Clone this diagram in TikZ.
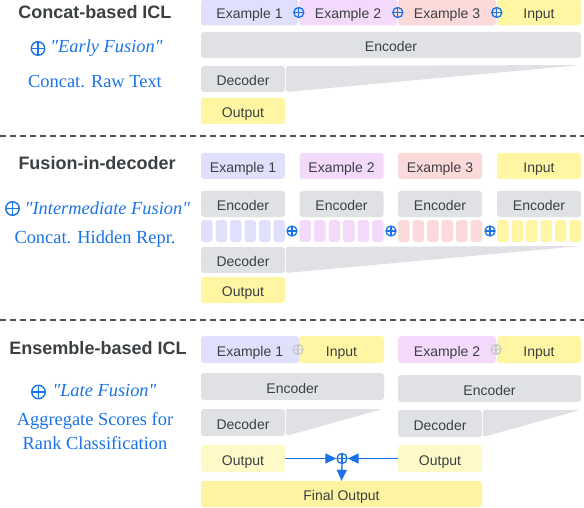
\documentclass[tikz,border=0pt]{standalone}
\usepackage{fontspec}
\setmainfont{Liberation Serif}[Ligatures=TeXOff]
\setsansfont{Liberation Sans}
\usetikzlibrary{arrows.meta}
\definecolor{txt}{HTML}{3C4043}
\definecolor{blu}{HTML}{1A73E8}
\definecolor{gry}{HTML}{DFE1E5}
\definecolor{cA}{HTML}{E1E0FC}
\definecolor{cB}{HTML}{F3DAFB}
\definecolor{cC}{HTML}{FDDADA}
\definecolor{cIn}{HTML}{FEF6A3}
\definecolor{cOut}{HTML}{FDFAC8}
\definecolor{cFin}{HTML}{FEF3A0}
\definecolor{opgray}{HTML}{C5CAD0}
\definecolor{dsh}{HTML}{505458}
\tikzset{
  bx/.style={rounded corners=3, inner sep=0, text=txt, font=\sffamily\fontsize{14}{16}\selectfont, text height=13, text depth=0, minimum height=26, minimum width=84},
  tok/.style={rounded corners=3, inner sep=0, minimum width=11.5, minimum height=22},
  hdr/.style={inner sep=0, text=txt, font=\sffamily\bfseries\fontsize{18}{22}\selectfont},
  bl/.style={inner sep=0, text=blu, font=\fontsize{18.4}{21}\selectfont},
  opl/.style={circle, draw=#1, line width=1.3, minimum size=10, inner sep=0, path picture={\draw[#1, line width=1.1] (path picture bounding box.north) -- (path picture bounding box.south) (path picture bounding box.west) -- (path picture bounding box.east);}},
  bigop/.style={opl=blu, minimum size=13.5, line width=1.4},
  sep/.style={dsh, line width=1.6, dash pattern=on 6 off 4},
  arr/.style={blu, line width=1.3, -{Triangle[length=11,width=10]}},
}
\begin{document}
\begin{tikzpicture}[x=1pt,y=-1pt]
\useasboundingbox (0,0) rectangle (584,508);
% ---------- Section 1
\node[hdr] (h1) at (95,12) {Concat-based ICL};
\node[bl] (f1) at (106.5,48) {\textit{"Early Fusion"}};
\node[bigop] (f1op) at (38,48.5) {};
\node[bl] (d1) at (95,82) {Concat. Raw Text};
\node[bx, fill=cA, minimum width=97] (s1e1) at (249.5,12.5) {Example 1};
\node[bx, fill=cB, minimum width=98] (s1e2) at (348,12.5) {Example 2};
\node[bx, fill=cC, minimum width=98] (s1e3) at (447,12.5) {Example 3};
\node[bx, fill=cIn] (s1in) at (539,12.5) {Input};
\node[opl=blu] (s1p1) at (s1e2.west) {};
\node[opl=blu] (s1p2) at (s1e3.west) {};
\node[opl=blu] (s1p3) at (s1in.west) {};
\node[bx, fill=gry, minimum width=380] (s1enc) at (391,45) {Encoder};
\node[bx, fill=gry] (s1dec) at (243,79) {Decoder};
\fill[gry, rounded corners=2] (286,66) -- (581,65) -- (286,92) -- cycle;
\node[bx, fill=cIn] (s1out) at (243,111) {Output};
\draw[sep] (0,136) -- (584,136);
% ---------- Section 2
\node[hdr] (h2) at (97,163) {Fusion-in-decoder};
\node[bl] (f2) at (107.5,208) {\textit{"Intermediate Fusion"}};
\node[bigop] (f2op) at (12.5,208.5) {};
\node[bl] (d2) at (95,239) {Concat. Hidden Repr.};
\foreach \n/\x/\c/\t in {a/243/cA/Example 1, b/341.5/cB/Example 2, c/440/cC/Example 3, d/539/cIn/Input}{
  \node[bx, fill=\c] (s2\n) at (\x,166) {\t};
  \node[bx, fill=gry] (s2enc\n) at (\x,204) {Encoder};
  \foreach \i in {0,...,5}{
    \node[tok, fill=\c] (s2t\n\i) at ({\x-42+5.75+\i*14.5},231) {};
  }
}
\node[opl=blu] (s2p1) at (292,231) {};
\node[opl=blu] (s2p2) at (391,231) {};
\node[opl=blu] (s2p3) at (490,231) {};
\node[bx, fill=gry] (s2dec) at (243,260) {Decoder};
\fill[gry, rounded corners=2] (286,247) -- (581,246) -- (286,273) -- cycle;
\node[bx, fill=cIn] (s2out) at (243,290) {Output};
\draw[sep] (0,320) -- (584,320);
% ---------- Section 3
\node[hdr] (h3) at (98,348) {Ensemble-based ICL};
\node[bl] (f3) at (104.5,391) {\textit{"Late Fusion"}};
\node[bigop] (f3op) at (38.5,392) {};
\node[bl] (d3) at (95,421) {Aggregate Scores for};
\node[bl] (d3b) at (95,443) {Rank Classification};
\node[bx, fill=cA, minimum width=98, minimum height=27] (s3e1) at (250,349.5) {Example 1};
\node[bx, fill=cIn, minimum width=85, minimum height=27] (s3in1) at (341.5,349.5) {Input};
\node[opl=opgray] (s3g1) at (298,349.5) {};
\node[bx, fill=cB, minimum width=98, minimum height=27] (s3e2) at (447,349.5) {Example 2};
\node[bx, fill=cIn, minimum height=27] (s3in2) at (539,349.5) {Input};
\node[opl=opgray] (s3g2) at (496,349.5) {};
\node[bx, fill=gry, minimum width=183, minimum height=27] (s3enc1) at (292.5,386.5) {Encoder};
\node[bx, fill=gry, minimum width=183, minimum height=27] (s3enc2) at (489.5,388.5) {Encoder};
\node[bx, fill=gry, minimum height=27] (s3dec1) at (243,422.5) {Decoder};
\fill[gry, rounded corners=2] (286,409) -- (383,409) -- (286,436) -- cycle;
\node[bx, fill=gry, minimum height=27] (s3dec2) at (440,423.5) {Decoder};
\fill[gry, rounded corners=2] (483,410) -- (580,410) -- (483,437) -- cycle;
\node[bx, fill=cOut, minimum height=27] (s3out1) at (243,458.5) {Output};
\node[bx, fill=cOut, minimum height=27] (s3out2) at (440,458.5) {Output};
\node[opl=blu] (s3p) at (342,458.5) {};
\node[bx, fill=cFin, minimum width=281] (fin) at (341.5,494) {Final Output};
\draw[arr] (s3out1.east) -- (s3p.west);
\draw[arr] (s3out2.west) -- (s3p.east);
\draw[arr] (s3p.south) -- (fin.north);
\end{tikzpicture}
\end{document}
